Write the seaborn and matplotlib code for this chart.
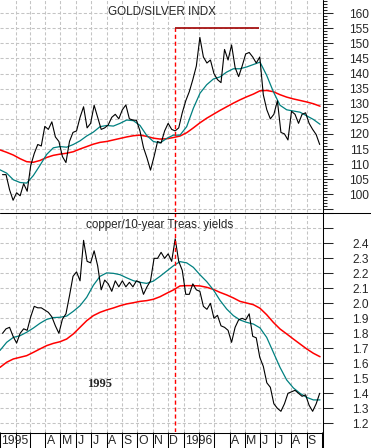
import pandas as pd
import seaborn as sns
import matplotlib.pyplot as plt
from matplotlib.lines import Line2D
from matplotlib.ticker import MultipleLocator, FuncFormatter

# Weekly closes
week_dates = pd.date_range('1995-01-06', periods=91, freq='7D')
gold_silver = [106.5, 106.5, 101.5, 98, 100.5, 99.5, 103.5, 101, 109.5, 113.5,
               116.5, 116, 122.5, 121.5, 124, 119, 117.5, 112.5, 110.5, 117.5,
               120.5, 121, 125.5, 129, 122, 123.5, 129.5, 125.5, 121.5, 122,
               123, 125.5, 126.5, 125, 128, 129.6, 125, 124.6, 124.5, 121,
               115.5, 112, 108, 112.5, 117.5, 117, 121, 123.5, 121.5, 121,
               122, 127, 131, 134, 138, 142.5, 152, 145.5, 143.5, 144.5,
               140, 138, 137, 148, 144.5, 149.5, 142, 139, 142.5, 146.5,
               147, 145.5, 143.5, 145.5, 133, 128, 125, 126.5, 131, 120.5,
               120, 118, 127.5, 126.5, 123.5, 126.5, 127, 123.5, 121.5, 119.8,
               116.5]
copper_yield = [1.80, 1.83, 1.84, 1.78, 1.735, 1.80, 1.83, 1.82, 1.91, 1.98,
                1.97, 1.97, 1.955, 1.94, 1.91, 1.85, 1.80, 1.895, 1.93, 2.05,
                2.18, 2.21, 2.15, 2.42, 2.28, 2.27, 2.35, 2.25, 2.09, 2.155,
                2.13, 2.08, 2.15, 2.11, 2.15, 2.11, 2.14, 2.11, 2.15, 2.14,
                2.06, 2.11, 2.15, 2.30, 2.30, 2.34, 2.30, 2.33, 2.28, 2.43,
                2.28, 2.22, 2.06, 2.06, 2.13, 2.09, 2.08, 1.98, 1.96, 2.0,
                1.90, 1.92, 1.85, 1.84, 1.82, 1.74, 1.84, 1.89, 1.90, 1.89,
                1.93, 1.78, 1.77, 1.64, 1.58, 1.47, 1.44, 1.33, 1.30, 1.28,
                1.33, 1.40, 1.41, 1.42, 1.40, 1.38, 1.39, 1.32, 1.28, 1.33,
                1.40]

# Moving averages, read about every 13 days
ma_dates = pd.date_range('1995-01-01', '1996-09-27 16:00', periods=49)
gold_ma_short = [108.1, 107.0, 104.8, 103.9, 103.7, 106.2, 109.6, 113.2, 115.4, 115.8,
                 115.6, 116.5, 117.7, 119.3, 120.6, 122.4, 122.8, 122.6, 123.5, 124.6,
                 124.4, 122.8, 119.5, 117.5, 117.0, 118.5, 119.6, 119.6, 122.4, 128.5,
                 133.5, 136.3, 138.2, 138.9, 140.5, 141.6, 141.6, 142.2, 143.0, 143.8,
                 139.4, 134.0, 129.5, 128.0, 127.6, 127.2, 126.0, 124.8, 123.2]
gold_ma_long = [114.7, 113.9, 113.0, 111.8, 110.8, 110.6, 111.2, 112.2, 112.9, 113.3,
                113.6, 114.1, 115.0, 115.8, 116.6, 117.2, 117.5, 118.0, 118.5, 119.0,
                119.4, 119.6, 119.2, 118.6, 118.3, 118.4, 118.8, 119.3, 120.4, 122.0,
                123.7, 125.2, 126.5, 127.8, 129.0, 130.2, 131.3, 132.3, 133.2, 134.3,
                134.4, 134.0, 133.0, 132.2, 131.6, 131.1, 130.6, 130.0, 129.2]
copper_ma_short = [1.686, 1.74, 1.773, 1.784, 1.807, 1.835, 1.867, 1.893, 1.905, 1.907,
                   1.915, 1.947, 1.984, 2.04, 2.12, 2.18, 2.203, 2.200, 2.191, 2.17,
                   2.151, 2.14, 2.133, 2.148, 2.18, 2.215, 2.25, 2.278, 2.27, 2.24,
                   2.19, 2.145, 2.09, 2.02, 1.962, 1.918, 1.889, 1.873, 1.862, 1.836,
                   1.773, 1.673, 1.573, 1.489, 1.436, 1.40, 1.373, 1.356, 1.356]
copper_ma_long = [1.573, 1.607, 1.629, 1.64, 1.651, 1.673, 1.696, 1.718, 1.733, 1.744,
                  1.762, 1.796, 1.84, 1.884, 1.918, 1.94, 1.956, 1.969, 1.984, 1.996,
                  2.004, 2.013, 2.018, 2.027, 2.044, 2.067, 2.089, 2.116, 2.118, 2.118,
                  2.116, 2.107, 2.093, 2.073, 2.056, 2.036, 2.013, 2.002, 1.991, 1.967,
                  1.924, 1.873, 1.829, 1.796, 1.762, 1.729, 1.696, 1.667, 1.644]

month_starts = pd.date_range('1995-01-01', '1996-10-01', freq='MS')
month_labels = ['1995', '', '', 'A', 'M', 'J', 'J', 'A', 'S', 'O', 'N', 'D',
                '1996', '', '', 'A', 'M', 'J', 'J', 'A', 'S']

event_date = pd.Timestamp('1995-12-14')
cap_end = pd.Timestamp('1996-05-30')
cap_level = 155

sns.set_style('white')
plt.rcParams['font.family'] = ['Liberation Sans', 'DejaVu Sans']

W, H = 371, 448
fig = plt.figure(figsize=(W / 100, H / 100), dpi=100)
right = 323 / W
ax1 = fig.add_axes([0, 1 - 212 / H, right, 212 / H])
ax2 = fig.add_axes([0, 16 / H, right, 220 / H])
strip = fig.add_axes([0, 0, right, 16 / H])

xmin, xmax = pd.Timestamp('1995-01-01'), pd.Timestamp('1996-10-03 14:00')
top_lim = (94.12, 164.39)
bot_lim = (1.142, 2.609)
grid_kw = dict(color='#c4c4c4', linestyle=(0, (3, 2)), linewidth=0.75)

panels = [
    (ax1, gold_silver, gold_ma_short, gold_ma_long, top_lim, 5, 1,
     lambda v, p: f'{v:.0f}' if 99 < v < 161 else ''),
    (ax2, copper_yield, copper_ma_short, copper_ma_long, bot_lim, 0.1, None,
     lambda v, p: f'{v:.1f}' if 1.15 < v < 2.45 else ''),
]
for ax, raw, ma_s, ma_l, ylim, step, minor, fmt in panels:
    sns.lineplot(x=ma_dates, y=ma_l, ax=ax, color='#ff0000', linewidth=1.1)
    sns.lineplot(x=ma_dates, y=ma_s, ax=ax, color='#008080', linewidth=0.9)
    sns.lineplot(x=week_dates, y=raw, ax=ax, color='black', linewidth=0.8)
    ax.set_xlim(xmin, xmax)
    ax.set_ylim(*ylim)
    ax.set_xlabel('')
    ax.set_ylabel('')
    for s in ax.spines.values():
        s.set_visible(False)
    ax.set_xticks(month_starts[1:-1])
    ax.tick_params(axis='x', length=0, labelbottom=False)
    ax.yaxis.set_ticks_position('right')
    ax.yaxis.set_major_locator(MultipleLocator(step))
    ax.yaxis.set_major_formatter(FuncFormatter(fmt))
    if minor:
        ax.yaxis.set_minor_locator(MultipleLocator(minor))
    ax.tick_params(axis='y', which='major', direction='out', length=7, width=0.75,
                   pad=26, labelsize=8.6, labelright=True, labelleft=False)
    ax.tick_params(axis='y', which='minor', direction='out', length=3, width=0.75)
    for lab in ax.get_yticklabels():
        lab.set_horizontalalignment('right')
    ax.grid(True, which='major', **grid_kw)
    ax.set_axisbelow(True)

# event marker and ceiling line
ax1.vlines(event_date, top_lim[0], cap_level, color='#ff0000', linestyle=(0, (3, 2)), linewidth=1.0)
ax1.hlines(cap_level, event_date, cap_end, color='#a00000', linewidth=1.2)
ax2.axvline(event_date, color='#ff0000', linestyle=(0, (3, 2)), linewidth=1.0)

# month strip
strip.set_xlim(xmin, xmax)
strip.set_ylim(0, 1)
strip.axis('off')
for d, lab in zip(month_starts, month_labels):
    strip.text(d + pd.Timedelta(days=2.5), 0.45, lab, ha='left', va='center', fontsize=8.8)
strip.vlines(month_starts, 0, 1, color='black', linewidth=0.75)

# frame lines
fig.add_artist(Line2D([0, 1], [1 - 212.5 / H] * 2, color='black', linewidth=0.75))
fig.add_artist(Line2D([0, right], [1 - 432.5 / H] * 2, color='black', linewidth=0.75))
fig.add_artist(Line2D([322.5 / W] * 2, [0, 1], color='black', linewidth=0.75))

fig.text(161.5 / W, 1 - 15 / H, 'GOLD/SILVER INDX', ha='center', va='baseline', fontsize=8.4)
fig.text(160 / W, 1 - 227.5 / H, 'copper/10-year Treas. yields', ha='center', va='baseline', fontsize=8.4)
fig.text(100 / W, 1 - 387 / H, '1995', ha='center', va='baseline', fontsize=9,
         fontweight='bold', family=['Liberation Serif', 'DejaVu Serif'])

fig.savefig('out.png', dpi=100)
